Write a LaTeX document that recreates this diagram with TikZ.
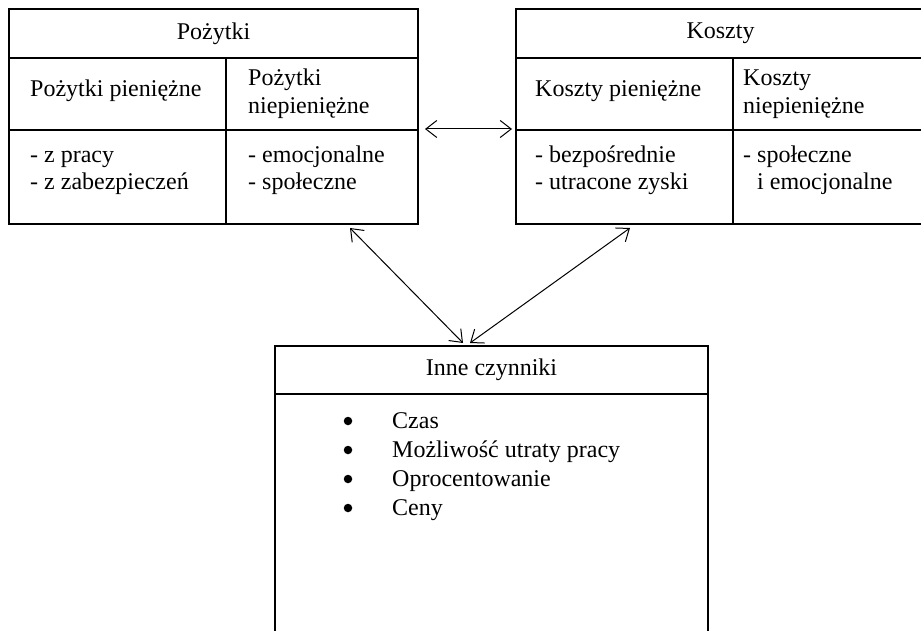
\documentclass[tikz,border=0pt]{standalone}
\usepackage{fontspec}
\setmainfont{Liberation Serif}
\usetikzlibrary{arrows.meta}

\tikzset{
  cell/.style={draw, line width=2pt, anchor=north west, inner sep=0pt},
  txt/.style={anchor=base west, inner sep=0pt, align=left},
  dot/.style={circle, fill, inner sep=0pt, minimum size=8.5pt},
  link/.style={line width=1pt,
    {Straight Barb[length=11pt,width=17pt]}-{Straight Barb[length=11pt,width=17pt]}},
}

\begin{document}
\begin{tikzpicture}[x=1pt, y=-1pt, font=\fontsize{24}{28}\selectfont]
    \useasboundingbox (0, 0) rectangle (921, 631);
    \clip (0, 0) rectangle (921, 631);

    % Benefits table (left)
    \node[cell, minimum width=409pt, minimum height=49pt] (ptitle) at (8, 8) {Pożytki};
    \node[cell, minimum width=217pt, minimum height=72pt] (pheadA) at (8, 57) {};
    \node[cell, minimum width=192pt, minimum height=72pt] (pheadB) at (225, 57) {};
    \node[cell, minimum width=217pt, minimum height=94pt] (pbodyA) at (8, 129) {};
    \node[cell, minimum width=192pt, minimum height=94pt] (pbodyB) at (225, 129) {};
    % (base of a two line text = its last line)
    \node[txt] (phA) at (30, 97) {Pożytki pieniężne};
    \node[txt] (phB) at (248, 114) {Pożytki\\niepieniężne};
    \node[txt] (pbA) at (30, 190) {- z pracy\\- z zabezpieczeń};
    \node[txt] (pbB) at (248, 190) {- emocjonalne\\- społeczne};

    % Costs table (right, runs past the edge)
    \node[cell, minimum width=409pt, minimum height=49pt] (ktitle) at (515, 8) {Koszty};
    \node[cell, minimum width=217pt, minimum height=72pt] (kheadA) at (515, 57) {};
    \node[cell, minimum width=192pt, minimum height=72pt] (kheadB) at (732, 57) {};
    \node[cell, minimum width=217pt, minimum height=94pt] (kbodyA) at (515, 129) {};
    \node[cell, minimum width=192pt, minimum height=94pt] (kbodyB) at (732, 129) {};
    \node[txt] (khA) at (535, 97) {Koszty pieniężne};
    \node[txt] (khB) at (743, 114) {Koszty\\niepieniężne};
    \node[txt] (kbA) at (535, 190) {- bezpośrednie\\- utracone zyski};
    \node[txt] (kbB) at (743, 190) {- społeczne\\\phantom{-} i emocjonalne};

    % Other factors (bottom, runs past the edge)
    \node[cell, minimum width=433pt, minimum height=48pt] (ititle) at (274, 345) {Inne czynniki};
    \node[cell, minimum width=433pt, minimum height=270pt] (ibody) at (274, 393) {};
    \node[dot] (b1) at (348, 421) {}; \node[txt] (i1) at (392, 428) {Czas};
    \node[dot] (b2) at (348, 450) {}; \node[txt] (i2) at (392, 457) {Możliwość utraty pracy};
    \node[dot] (b3) at (348, 479) {}; \node[txt] (i3) at (392, 486) {Oprocentowanie};
    \node[dot] (b4) at (348, 508) {}; \node[txt] (i4) at (392, 515) {Ceny};

    % Arrow ends
    \coordinate (pend) at (350, 228);
    \coordinate (kend) at (630, 228);
    \coordinate (iendA) at (463, 343);
    \coordinate (iendB) at (470, 343);

    \draw[link, shorten <=6pt, shorten >=3pt] (pbodyB.north east) -- (kbodyA.north west);
    \draw[link] (pend) -- (iendA);
    \draw[link] (kend) -- (iendB);
  \end{tikzpicture}
\end{document}
